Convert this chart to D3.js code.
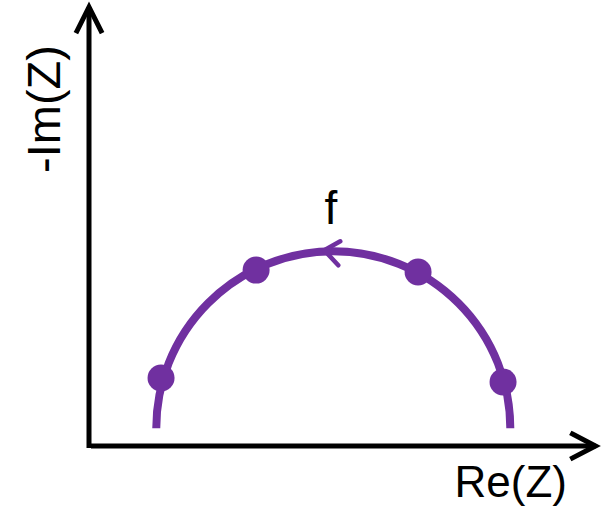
<!DOCTYPE html>
<html>
<head>
<meta charset="utf-8">
<script src="https://cdn.jsdelivr.net/npm/d3@7"></script>
<style>
  html, body { margin: 0; padding: 0; background: #fff; }
  svg { display: block; }
  text { font-family: "Liberation Sans", Arial, sans-serif; fill: #000; }
</style>
</head>
<body>
<svg id="chart" width="602" height="508"></svg>
<script>
// Nyquist plot of a single RC element: one semicircle in the complex impedance plane
const axisLabels = ["Re(Z)", "-Im(Z)"];
const freqLabel = ["f"];
const reDomain = [0, 28.5];
const imDomain = [0, 24.75];
// semicircle: centre (Re, Im) and radius, in impedance units
const arcCentre = [13.8, 1.0];
const arcRadius = [10];
// sampled frequency points on the arc
const pointRe = [4.07, 9.44, 18.59, 23.39];
const pointIm = [3.84, 9.94, 9.83, 3.62];

const purple = "#7030a0";
const svg = d3.select("#chart");

const x = d3.scaleLinear().domain(reDomain).range([89, 593.5]);
const y = d3.scaleLinear().domain(imDomain).range([446, 8]);

// axes with open arrowheads
const axes = svg.append("g").attr("stroke", "#000").attr("stroke-width", 5).attr("fill", "none");
axes.append("line").attr("x1", x(0)).attr("y1", y(0) + 2).attr("x2", x(0)).attr("y2", y(imDomain[1]) - 1);
axes.append("line").attr("x1", x(0) + 2).attr("y1", y(0)).attr("x2", x(reDomain[1]) + 2).attr("y2", y(0));
axes.append("path")
  .attr("stroke-linecap", "square")
  .attr("d", `M${x(0) - 12},${y(imDomain[1]) + 23}L${x(0)},${y(imDomain[1]) - 1}L${x(0) + 12},${y(imDomain[1]) + 23}`);
axes.append("path")
  .attr("stroke-linecap", "square")
  .attr("d", `M${x(reDomain[1]) - 21},${y(0) - 12}L${x(reDomain[1]) + 2},${y(0)}L${x(reDomain[1]) - 21},${y(0) + 12}`);

// semicircle through the scales
const pxPerUnit = x(1) - x(0);
const cx = x(arcCentre[0]), cy = y(arcCentre[1]);
const rPx = arcRadius[0] * pxPerUnit;
const arcGen = d3.arc()
  .innerRadius(rPx).outerRadius(rPx)
  .startAngle(-Math.PI / 2).endAngle(Math.PI / 2);
svg.append("path")
  .attr("transform", `translate(${cx},${cy})`)
  .attr("d", arcGen())
  .attr("fill", "none")
  .attr("stroke", purple)
  .attr("stroke-width", 8);

// direction of increasing frequency
const tipX = cx - 9, tipY = cy - rPx - 1;
svg.append("path")
  .attr("d", `M${tipX + 16},${tipY - 9}L${tipX},${tipY}L${tipX + 14},${tipY + 15}`)
  .attr("fill", "none")
  .attr("stroke", purple)
  .attr("stroke-width", 4.5)
  .attr("stroke-linecap", "round")
  .attr("stroke-linejoin", "round");

svg.selectAll("circle.pt")
  .data(pointRe.map((r, i) => [r, pointIm[i]]))
  .join("circle")
  .attr("class", "pt")
  .attr("cx", d => x(d[0]))
  .attr("cy", d => y(d[1]))
  .attr("r", 13.5)
  .attr("fill", purple);

// labels
svg.append("text")
  .attr("x", 331).attr("y", 224)
  .attr("text-anchor", "middle")
  .attr("font-size", 46)
  .text(freqLabel[0]);

svg.append("text")
  .attr("x", 567).attr("y", 497)
  .attr("text-anchor", "end")
  .attr("font-size", 44)
  .text(axisLabels[0]);

svg.append("text")
  .attr("transform", "translate(60,109) rotate(-90)")
  .attr("text-anchor", "middle")
  .attr("font-size", 47)
  .text(axisLabels[1]);
</script>
</body>
</html>
